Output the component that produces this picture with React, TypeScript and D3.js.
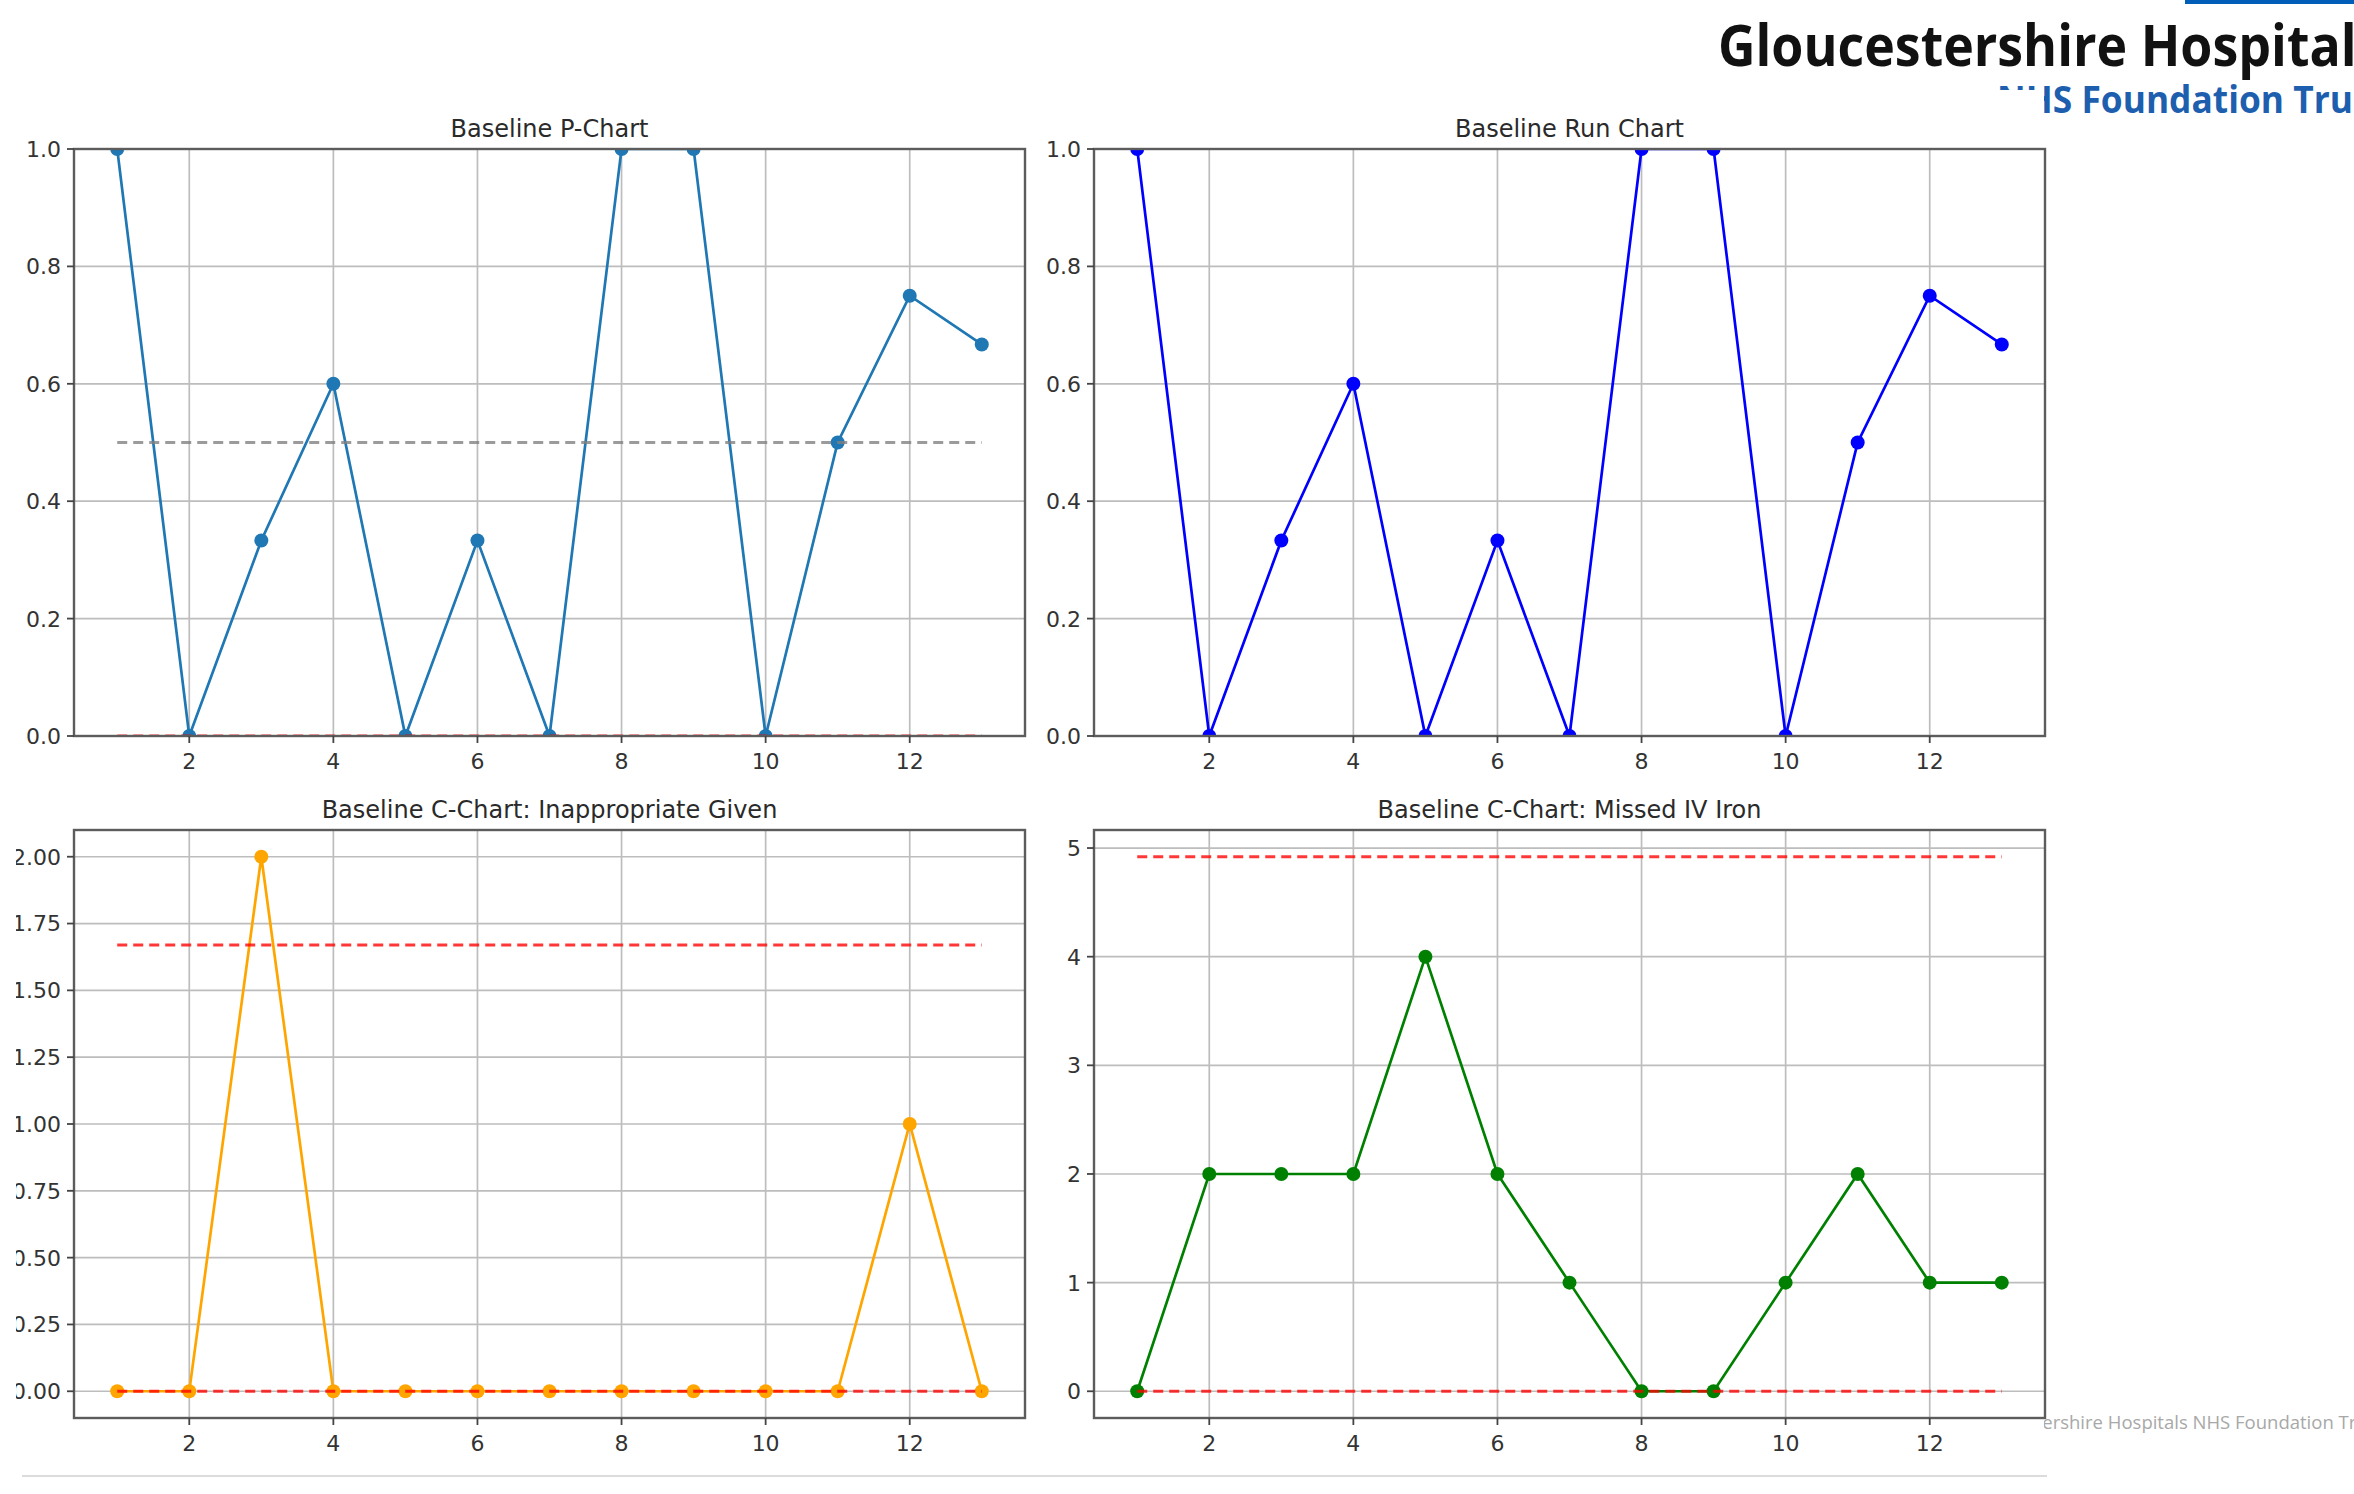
import React from 'react';
import * as d3 from 'd3';

// --- data ---
const periods = [1, 2, 3, 4, 5, 6, 7, 8, 9, 10, 11, 12, 13];
const proportionValues = [1, 0, 0.333, 0.6, 0, 0.333, 0, 1, 1, 0, 0.5, 0.75, 0.667];
const inappropriateGiven = [0, 0, 2, 0, 0, 0, 0, 0, 0, 0, 0, 1, 0];
const missedIvIron = [0, 2, 2, 2, 4, 2, 1, 0, 0, 1, 2, 1, 1];

const pChartLimits = [0.0];
const pChartCentre = [0.5];
const inappropriateLimits = [1.67, 0.0];
const missedIvLimits = [4.92, 0.0];

const xTicks = [2, 4, 6, 8, 10, 12];
const proportionTicks = [0, 0.2, 0.4, 0.6, 0.8, 1.0];
const inappropriateTicks = [0, 0.25, 0.5, 0.75, 1.0, 1.25, 1.5, 1.75, 2.0];
const missedIvTicks = [0, 1, 2, 3, 4, 5];

const W = 2354;
const H = 1494;
const FONT = 'DejaVu Sans, sans-serif';

// matplotlib style auto limits (5% margin)
function padded(vals) {
  const [lo, hi] = d3.extent(vals);
  const m = (hi - lo) * 0.05;
  return [lo - m, hi + m];
}

function Panel({ id, box, yDomain, yTicks, yFmt, values, color, title, refLines }) {
  const x = d3.scaleLinear().domain(padded(periods)).range([box.left, box.right]);
  const y = d3.scaleLinear().domain(yDomain).range([box.bottom, box.top]);
  const line = d3.line().x((d, i) => x(periods[i])).y(d => y(d));
  const xs = d3.extent(periods);
  const dash = '10 6';

  return (
    <g>
      <defs>
        <clipPath id={id}>
          <rect x={box.left} y={box.top} width={box.right - box.left} height={box.bottom - box.top} />
        </clipPath>
      </defs>
      {/* grid */}
      <g stroke="#bdbdbd" strokeWidth={1.7}>
        {xTicks.map(t => <line key={'gx' + t} x1={x(t)} x2={x(t)} y1={box.top} y2={box.bottom} />)}
        {yTicks.map(t => <line key={'gy' + t} x1={box.left} x2={box.right} y1={y(t)} y2={y(t)} />)}
      </g>
      <g clipPath={`url(#${id})`}>
        <path d={line(values)} fill="none" stroke={color} strokeWidth={2.7} />
        {values.map((v, i) => (
          <circle key={i} cx={x(periods[i])} cy={y(v)} r={7} fill={color} />
        ))}
        {refLines.map((r, i) => (
          <line key={'r' + i} x1={x(xs[0])} x2={x(xs[1])} y1={y(r.value)} y2={y(r.value)}
            stroke={r.color} strokeWidth={3} strokeDasharray={dash} opacity={0.78} />
        ))}
      </g>
      {/* spines */}
      <rect x={box.left} y={box.top} width={box.right - box.left} height={box.bottom - box.top}
        fill="none" stroke="#5c5c5c" strokeWidth={2.4} />
      {/* ticks */}
      <g stroke="#444" strokeWidth={1.8}>
        {xTicks.map(t => <line key={'tx' + t} x1={x(t)} x2={x(t)} y1={box.bottom} y2={box.bottom + 7} />)}
        {yTicks.map(t => <line key={'ty' + t} x1={box.left - 7} x2={box.left} y1={y(t)} y2={y(t)} />)}
      </g>
      <g fontFamily={FONT} fontSize={22} fill="#333">
        {xTicks.map(t => (
          <text key={'lx' + t} x={x(t)} y={box.bottom + 33} textAnchor="middle">{t}</text>
        ))}
        {yTicks.map(t => (
          <text key={'ly' + t} x={box.left - 13} y={y(t)} dy="0.36em" textAnchor="end">{yFmt(t)}</text>
        ))}
      </g>
      <text x={(box.left + box.right) / 2} y={box.top - 12} textAnchor="middle"
        fontFamily={FONT} fontSize={24} fill="#2a2a2a">{title}</text>
    </g>
  );
}

export default function App() {
  const boxes = {
    tl: { left: 74, right: 1025, top: 149, bottom: 736 },
    tr: { left: 1094, right: 2045, top: 149, bottom: 736 },
    bl: { left: 74, right: 1025, top: 830, bottom: 1418 },
    br: { left: 1094, right: 2045, top: 830, bottom: 1418 },
  };
  return (
    <svg width={W} height={H} viewBox={`0 0 ${W} ${H}`}
      style={{ position: 'absolute', left: 0, top: 0, background: '#fff' }}>
      <defs>
        <clipPath id="picture">
          <rect x={16} y={90} width={2032} height={H - 90} />
        </clipPath>
      </defs>
      <rect x={0} y={0} width={W} height={H} fill="#fff" />
      {/* slide header */}
      <rect x={2185} y={0} width={169} height={4} fill="#005EB8" />
      <text x={1718} y={66} fontFamily="Open Sans, sans-serif" fontWeight={700} fontSize={57}
        fill="#111" transform="translate(1718 0) scale(0.91 1) translate(-1718 0)">Gloucestershire Hospitals</text>
      <text x={1997} y={113} fontFamily="Open Sans, sans-serif" fontWeight={700} fontSize={38}
        fill="#1d5fae" transform="translate(1997 0) scale(0.93 1) translate(-1997 0)">NHS Foundation Trust</text>
      <text x={1967} y={1429} fontFamily="Open Sans, sans-serif" fontSize={18.5}
        fill="#a8a8a8">Gloucestershire Hospitals NHS Foundation Trust</text>

      {/* pasted chart picture */}
      <rect x={16} y={90} width={2028} height={H - 90} fill="#fff" />
      <g clipPath="url(#picture)">
        <Panel id="c-tl" box={boxes.tl} yDomain={[0, 1]} yTicks={proportionTicks} yFmt={d3.format('.1f')}
          values={proportionValues} color="#1f77b4" title="Baseline P-Chart"
          refLines={[{ value: pChartCentre[0], color: '#808080' }, { value: pChartLimits[0], color: '#ff0000' }]} />
        <Panel id="c-tr" box={boxes.tr} yDomain={[0, 1]} yTicks={proportionTicks} yFmt={d3.format('.1f')}
          values={proportionValues} color="#0000ff" title="Baseline Run Chart" refLines={[]} />
        <Panel id="c-bl" box={boxes.bl} yDomain={padded(inappropriateGiven.concat(inappropriateLimits))}
          yTicks={inappropriateTicks} yFmt={d3.format('.2f')}
          values={inappropriateGiven} color="#ffa500" title="Baseline C-Chart: Inappropriate Given"
          refLines={inappropriateLimits.map(v => ({ value: v, color: '#ff0000' }))} />
        <Panel id="c-br" box={boxes.br} yDomain={padded(missedIvIron.concat(missedIvLimits))}
          yTicks={missedIvTicks} yFmt={d3.format('d')}
          values={missedIvIron} color="#008000" title="Baseline C-Chart: Missed IV Iron"
          refLines={missedIvLimits.map(v => ({ value: v, color: '#ff0000' }))} />
        <line x1={22} x2={2047} y1={1476} y2={1476} stroke="#dcdcdc" strokeWidth={2} />
      </g>
    </svg>
  );
}
